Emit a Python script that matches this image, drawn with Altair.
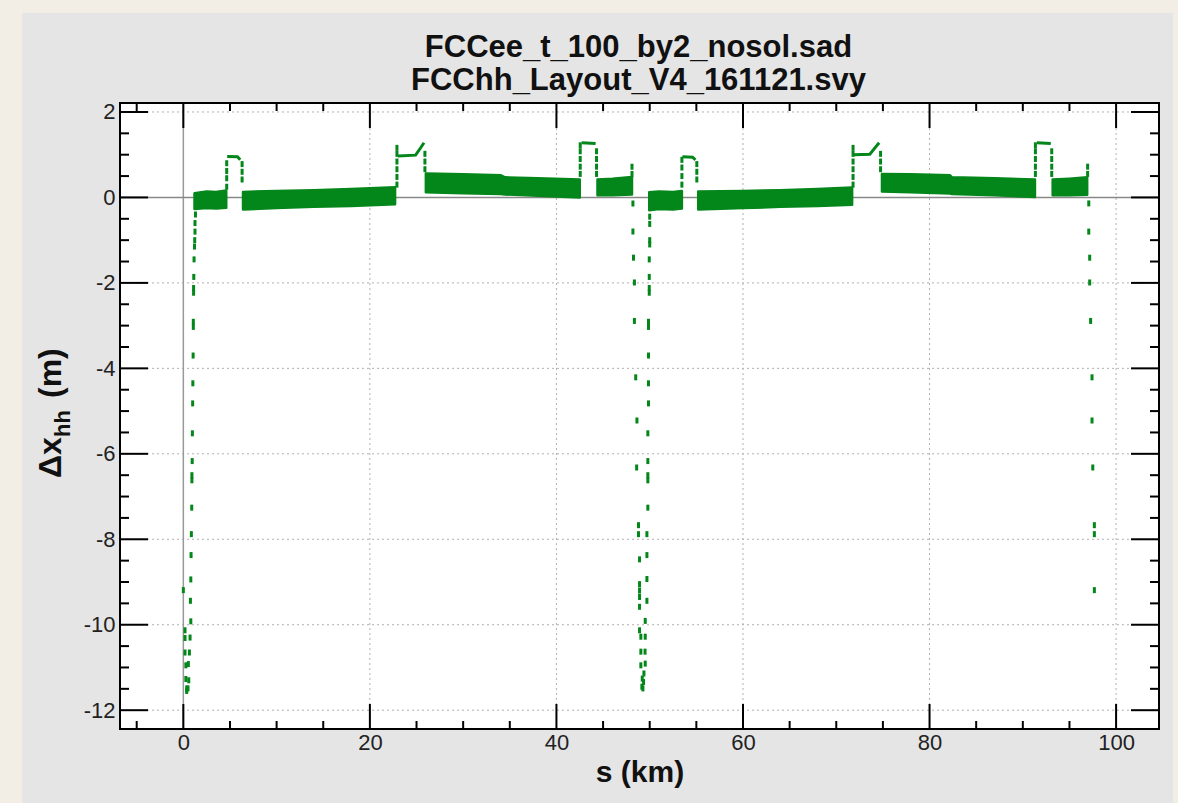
import altair as alt
import pandas as pd

# ---------------- axis ticks ----------------
x_major = [0, 20, 40, 60, 80, 100]
x_minor = [-5, 5, 10, 15, 25, 30, 35, 45, 50, 55, 65, 70, 75, 85, 90, 95]
y_major = [2, 0, -2, -4, -6, -8, -10, -12]
y_minor = [1.5, 1, 0.5, -0.5, -1, -1.5, -2.5, -3, -3.5, -4.5, -5, -5.5,
           -6.5, -7, -7.5, -8.5, -9, -9.5, -10.5, -11, -11.5]
x_grid = [20, 40, 60, 80, 100]
y_grid = [2, -2, -4, -6, -8, -10, -12]

# ---------------- dense bands (s km, lower / upper dx) ----------------
band1_s = [1.2, 2.5, 3.5, 4.6]
band1_lo = [-0.27, -0.25, -0.26, -0.24]
band1_hi = [0.10, 0.14, 0.13, 0.16]
band2_s = [6.4, 10, 14, 18, 22.7]
band2_lo = [-0.28, -0.25, -0.22, -0.20, -0.16]
band2_hi = [0.13, 0.15, 0.17, 0.20, 0.24]
band3_s = [26.0, 30, 34.0, 34.5, 38, 42.5]
band3_lo = [0.12, 0.10, 0.08, 0.07, 0.04, 0.0]
band3_hi = [0.56, 0.54, 0.52, 0.47, 0.45, 0.42]
band4_s = [44.4, 46, 48.1]
band4_lo = [0.05, 0.05, 0.07]
band4_hi = [0.42, 0.44, 0.48]
band5_s = [49.95, 51, 52.5, 53.45]
band5_lo = [-0.30, -0.27, -0.28, -0.26]
band5_hi = [0.12, 0.14, 0.13, 0.15]
band6_s = [55.2, 60, 64, 68, 71.7]
band6_lo = [-0.28, -0.25, -0.22, -0.20, -0.17]
band6_hi = [0.14, 0.15, 0.17, 0.20, 0.23]
band7_s = [74.9, 78, 82.2, 82.4, 87, 91.3]
band7_lo = [0.14, 0.12, 0.09, 0.08, 0.05, 0.01]
band7_hi = [0.55, 0.54, 0.52, 0.47, 0.45, 0.42]
band8_s = [93.2, 95, 96.9]
band8_lo = [0.05, 0.05, 0.06]
band8_hi = [0.42, 0.44, 0.47]

# ---------------- thin plateau segments ----------------
seg1_s = [4.7, 5.8, 6.1]
seg1_v = [0.96, 0.95, 0.88]
seg2_s = [23.0, 24.9, 25.5, 25.8]
seg2_v = [0.97, 0.99, 1.18, 1.28]
seg3_s = [42.7, 44.2]
seg3_v = [1.28, 1.26]
seg4_s = [53.5, 54.6, 54.9]
seg4_v = [0.95, 0.94, 0.88]
seg5_s = [71.9, 73.6, 74.3, 74.6]
seg5_v = [1.00, 1.01, 1.20, 1.28]
seg6_s = [91.5, 93.0]
seg6_v = [1.28, 1.26]

# ---------------- sparse points (spikes and transitions) ----------------
spikeA_s = [0.0, 0.18, 0.18, 0.18, 0.27, 0.27, 0.36, 0.36,
            0.5, 0.58, 0.54, 0.65, 0.72, 0.80, 0.76, 0.80, 0.83,
            0.86, 0.90, 0.92, 0.92, 0.95, 0.97, 1.00, 1.02, 1.05, 1.07, 1.07,
            1.10, 1.10, 1.12, 1.15, 1.20, 1.22, 1.25, 1.25, 1.30, 1.30]
spikeA_v = [-9.19, -10.13, -10.31, -10.65, -10.95, -11.27, -11.49, -11.55,
            -11.49, -11.30, -10.92, -10.65, -10.30, -9.92, -9.44, -8.94, -8.37,
            -7.88, -7.26, -6.62, -6.50, -6.17, -5.52, -4.82, -4.35, -3.70, -3.03, -2.91,
            -2.23, -2.12, -1.86, -1.45, -1.15, -1.0, -0.8, -0.6, -0.4, -0.2]
trans1_s = [4.65, 4.65, 4.65, 4.65, 6.3, 6.3, 6.3]
trans1_v = [0.25, 0.45, 0.62, 0.80, 0.78, 0.60, 0.42]
trans2_s = [22.9, 22.9, 22.9, 22.9, 22.9, 22.9, 25.9, 25.9, 25.9]
trans2_v = [0.30, 0.48, 0.66, 0.84, 1.02, 1.16, 1.02, 0.84, 0.66]
trans3_s = [42.55, 42.55, 42.55, 42.55, 42.55, 44.3, 44.3, 44.3, 44.3, 48.1, 48.1]
trans3_v = [0.55, 0.72, 0.90, 1.08, 1.22, 1.08, 0.90, 0.72, 0.55, 0.55, 0.72]
spikeB_s = [48.2, 48.2, 48.26, 48.36, 48.36, 48.5, 48.63, 48.6, 48.8, 48.8, 48.91,
            48.91, 48.91, 48.91, 48.91, 48.91, 49.05, 49.05, 49.05, 49.2, 49.16,
            49.27, 49.34, 49.38, 49.52, 49.5, 49.52, 49.52, 49.7, 49.7, 49.7, 49.7,
            49.8, 49.8, 49.8, 49.8, 49.8, 49.87, 49.87, 49.87, 49.87, 49.87,
            49.95, 49.95, 49.95, 49.95, 50.0, 50.0, 50.0, 50.0]
spikeB_v = [-0.14, -0.80, -1.41, -1.99, -2.89, -4.21, -5.22, -6.32, -7.67, -7.88, -8.47,
            -9.05, -9.20, -9.35, -9.58, -10.13, -10.28, -10.63, -10.95, -11.26, -11.45,
            -11.49, -11.34, -11.14, -10.91, -10.63, -10.28, -9.91, -9.44, -8.93, -8.37, -7.88,
            -7.26, -6.62, -6.50, -6.17, -5.52, -4.82, -4.35, -3.70, -3.03, -2.91,
            -2.23, -2.12, -1.86, -1.45, -1.10, -1.00, -0.62, -0.45]
trans4_s = [53.45, 53.45, 53.45, 53.45, 55.05, 55.05, 55.05]
trans4_v = [0.30, 0.50, 0.70, 0.88, 0.78, 0.60, 0.42]
trans5_s = [71.8, 71.8, 71.8, 71.8, 71.8, 71.8, 74.75, 74.75, 74.75]
trans5_v = [0.30, 0.48, 0.66, 0.84, 1.02, 1.16, 1.02, 0.84, 0.66]
trans6_s = [91.35, 91.35, 91.35, 91.35, 91.35, 93.1, 93.1, 93.1, 93.1, 96.95, 96.95]
trans6_v = [0.55, 0.72, 0.90, 1.08, 1.22, 1.08, 0.90, 0.72, 0.55, 0.55, 0.72]
spikeC_s = [97.07, 97.07, 97.17, 97.17, 97.27, 97.42, 97.42, 97.5, 97.67, 97.67, 97.67]
spikeC_v = [-0.14, -0.80, -1.41, -1.99, -2.89, -4.21, -5.22, -6.32, -7.67, -7.88, -9.19]

title_lines = ["FCCee_t_100_by2_nosol.sad", "FCChh_Layout_V4_161121.svy"]
x_title = "s (km)"
y_title_parts = ["Δx", "hh", "(m)"]

# ---------------- build tables ----------------
band_rows = []
for name, (ss, lo, hi) in {
    "b1": (band1_s, band1_lo, band1_hi), "b2": (band2_s, band2_lo, band2_hi),
    "b3": (band3_s, band3_lo, band3_hi), "b4": (band4_s, band4_lo, band4_hi),
    "b5": (band5_s, band5_lo, band5_hi), "b6": (band6_s, band6_lo, band6_hi),
    "b7": (band7_s, band7_lo, band7_hi), "b8": (band8_s, band8_lo, band8_hi),
}.items():
    for a, b, c in zip(ss, lo, hi):
        band_rows.append({"band": name, "s": a, "v": b, "v2": c})
bands = pd.DataFrame(band_rows)

seg_rows = []
for name, (ss, vv) in {
    "l1": (seg1_s, seg1_v), "l2": (seg2_s, seg2_v), "l3": (seg3_s, seg3_v),
    "l4": (seg4_s, seg4_v), "l5": (seg5_s, seg5_v), "l6": (seg6_s, seg6_v),
}.items():
    for a, b in zip(ss, vv):
        seg_rows.append({"seg": name, "s": a, "v": b})
segs = pd.DataFrame(seg_rows)

pt_s = spikeA_s + trans1_s + trans2_s + trans3_s + spikeB_s + trans4_s + trans5_s + trans6_s + spikeC_s
pt_v = spikeA_v + trans1_v + trans2_v + trans3_v + spikeB_v + trans4_v + trans5_v + trans6_v + spikeC_v
points = pd.DataFrame({"s": pt_s, "v": pt_v})

# ---------------- styling ----------------
W, H = 1039, 626
XDOM = [-6.79, 104.6]
YDOM = [-12.44, 2.21]
GREEN = "#03861a"
FONT = "Liberation Sans"
MAJ_X, MIN_X, MAJ_Y, MIN_Y = 25, 8, 28, 9

xs = alt.Scale(domain=XDOM, nice=False, zero=False)
ys = alt.Scale(domain=YDOM, nice=False, zero=False)
x_axis = alt.Axis(values=x_major, title=x_title, tickSize=0, domain=False, grid=False,
                  labelFont=FONT, labelFontSize=22, labelColor="#222", labelPadding=3,
                  labelOverlap=False, labelFlush=False, format="d",
                  titleFont=FONT, titleFontSize=30, titleFontWeight="bold", titleColor="#111",
                  titlePadding=4, zindex=1)
y_axis = alt.Axis(values=y_major, title=None, tickSize=0, domain=False, grid=False,
                  labelFont=FONT, labelFontSize=22, labelColor="#222", labelPadding=5,
                  labelOverlap=False, labelFlush=False, format="d",
                  labelExpr="replace(datum.label, '\u2212', '-')", zindex=1)
X = lambda: alt.X("s:Q", scale=xs, axis=x_axis)
Y = lambda: alt.Y("v:Q", scale=ys, axis=y_axis)

one = pd.DataFrame({"k": [0]})

panel = alt.Chart(one).mark_rect(color="#e5e5e5").encode(
    x=alt.value(-98), x2=alt.value(1053), y=alt.value(-90), y2=alt.value(720))
plotbg = alt.Chart(one).mark_rect(color="white").encode(
    x=alt.value(0), x2=alt.value(W), y=alt.value(0), y2=alt.value(H))

xgrid = alt.Chart(pd.DataFrame({"s": x_grid})).mark_rule(
    color="#b0b0b0", strokeWidth=1, strokeDash=[2, 3]).encode(x=X())
ygrid = alt.Chart(pd.DataFrame({"v": y_grid})).mark_rule(
    color="#b0b0b0", strokeWidth=1, strokeDash=[2, 3]).encode(y=Y())
x0 = alt.Chart(pd.DataFrame({"s": [0]})).mark_rule(color="#999", strokeWidth=1.5).encode(x=X())
y0 = alt.Chart(pd.DataFrame({"v": [0]})).mark_rule(color="#888", strokeWidth=1.5).encode(y=Y())

band_layer = alt.Chart(bands).mark_area(
    color=GREEN, opacity=1, interpolate="linear", stroke=GREEN, strokeWidth=2.5,
    strokeJoin="round").encode(x=X(), y=Y(), y2="v2:Q", detail="band:N")
seg_layer = alt.Chart(segs).mark_line(color=GREEN, strokeWidth=3).encode(
    x=X(), y=Y(), detail="seg:N")
pt_layer = alt.Chart(points).mark_tick(color=GREEN, orient="vertical", thickness=3, size=6, opacity=1).encode(
    x=X(), y=Y())

def xticks(vals, L):
    d = pd.DataFrame({"s": vals})
    bot = alt.Chart(d).mark_rule(color="black", strokeWidth=2).encode(
        x=X(), y=alt.value(H - L), y2=alt.value(H))
    top = alt.Chart(d).mark_rule(color="black", strokeWidth=2).encode(
        x=X(), y=alt.value(0), y2=alt.value(L))
    return [bot, top]

def yticks(vals, L):
    d = pd.DataFrame({"v": vals})
    lft = alt.Chart(d).mark_rule(color="black", strokeWidth=2).encode(
        y=Y(), x=alt.value(0), x2=alt.value(L))
    rgt = alt.Chart(d).mark_rule(color="black", strokeWidth=2).encode(
        y=Y(), x=alt.value(W - L), x2=alt.value(W))
    return [lft, rgt]

frame = alt.Chart(one).mark_rect(fillOpacity=0, stroke="black", strokeWidth=2).encode(
    x=alt.value(0), x2=alt.value(W), y=alt.value(0), y2=alt.value(H))

ytitle = [
    alt.Chart(pd.DataFrame({"t": [y_title_parts[0]]})).mark_text(
        font=FONT, fontSize=32, fontWeight="bold", angle=270, align="left",
        baseline="alphabetic", color="#111").encode(text="t:N", x=alt.value(-59), y=alt.value(375)),
    alt.Chart(pd.DataFrame({"t": [y_title_parts[1]]})).mark_text(
        font=FONT, fontSize=22, fontWeight="bold", angle=270, align="left",
        baseline="alphabetic", color="#111").encode(text="t:N", x=alt.value(-50), y=alt.value(334)),
    alt.Chart(pd.DataFrame({"t": [y_title_parts[2]]})).mark_text(
        font=FONT, fontSize=32, fontWeight="bold", angle=270, align="left",
        baseline="alphabetic", color="#111").encode(text="t:N", x=alt.value(-59), y=alt.value(295)),
]

title_marks = [
    alt.Chart(pd.DataFrame({"t": [title_lines[0]]})).mark_text(
        font=FONT, fontSize=31, fontWeight="bold", align="center",
        baseline="alphabetic", color="#111").encode(text="t:N", x=alt.value(W / 2 - 1), y=alt.value(-46)),
    alt.Chart(pd.DataFrame({"t": [title_lines[1]]})).mark_text(
        font=FONT, fontSize=31, fontWeight="bold", align="center",
        baseline="alphabetic", color="#111").encode(text="t:N", x=alt.value(W / 2 - 1), y=alt.value(-13)),
]

layers = ([panel, plotbg, xgrid, ygrid, x0, y0, band_layer, seg_layer, pt_layer]
          + xticks(x_major, MAJ_X) + xticks(x_minor, MIN_X)
          + yticks(y_major, MAJ_Y) + yticks(y_minor, MIN_Y)
          + [frame] + ytitle + title_marks)

chart = alt.layer(*layers).properties(
    width=W, height=H,
    autosize=alt.AutoSizeParams(type="none"),
    padding={"left": 120, "top": 103, "right": 19, "bottom": 74},
    background="#f2eee6",
).configure_view(stroke=None)

chart.save("out.html", embed_options={"renderer": "svg", "actions": False})
